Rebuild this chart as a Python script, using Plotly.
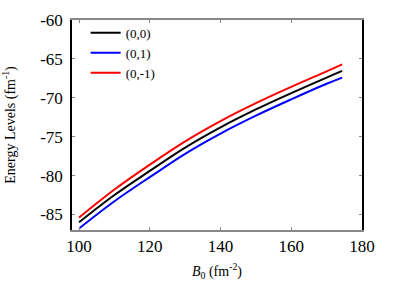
import plotly.graph_objects as go

B0 = [100, 110, 120, 130, 140, 150, 160, 170, 174.4]
E_00 = [-86.0, -82.5, -79.4, -76.4, -73.8, -71.5, -69.4, -67.4, -66.55]
E_01 = [-86.8, -83.3, -80.2, -77.2, -74.6, -72.3, -70.2, -68.2, -67.4]
E_0m1 = [-85.4, -81.8, -78.6, -75.6, -73.0, -70.7, -68.6, -66.6, -65.7]
names = ["(0,0)", "(0,1)", "(0,-1)"]
colors = ["black", "blue", "red"]
x_ticks = [100, 120, 140, 160, 180]
y_ticks = [-85, -80, -75, -70, -65, -60]
y_ticktext = ["-85", "-80", "-75", "-70", "-65", "-60"]

FONT = "Liberation Serif"
fig = go.Figure()
for ys, nm, c in zip([E_00, E_01, E_0m1], names, colors):
    fig.add_trace(go.Scatter(x=B0, y=ys, mode="lines", name=nm,
                             line=dict(color=c, width=2, shape="spline")))

fig.update_layout(
    width=400, height=300,
    margin=dict(l=72, r=38, t=20, b=70),
    paper_bgcolor="white", plot_bgcolor="white",
    font=dict(family=FONT, color="black", size=15),
    legend=dict(x=0.047, y=1.01, xanchor="left", yanchor="top",
                bgcolor="rgba(0,0,0,0)", font=dict(size=13, family=FONT),
                tracegroupgap=0),
    xaxis=dict(range=[98, 180], tickvals=x_ticks, ticks="inside", ticklen=3,
               tickcolor="#888", mirror="allticks", showline=True,
               linecolor="#888", linewidth=2, showgrid=False, zeroline=False,
               tickfont=dict(size=17), automargin=False,
               title=dict(text="<i>B</i><sub>0</sub> (fm<sup>-2</sup>)",
                          font=dict(size=14), standoff=11)),
    yaxis=dict(range=[-87, -60], tickvals=y_ticks, ticktext=y_ticktext,
               ticks="inside", ticklen=3, ticklabelstandoff=4,
               tickcolor="#888", mirror="allticks", showline=True,
               linecolor="black", linewidth=1.5, showgrid=False, zeroline=False,
               tickfont=dict(size=17), automargin=False,
               title=dict(text="Energy Levels (fm<sup>-1</sup>)",
                          font=dict(size=14), standoff=22)),
)
fig.write_html("out.html", config={"displayModeBar": False},
               post_script="document.body.style.margin='0';")
